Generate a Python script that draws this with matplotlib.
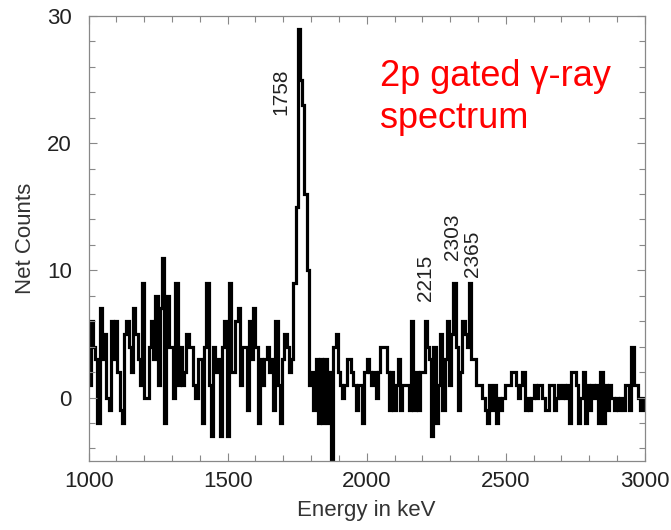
import matplotlib
matplotlib.use("Agg")
import matplotlib.pyplot as plt
import numpy as np
from matplotlib.ticker import MultipleLocator

plt.rcParams['font.family'] = ['Liberation Sans', 'DejaVu Sans']

# espectro gamma: bins de 8 keV entre 1000 y 3000 keV
e_min = 1000
e_max = 3000
bin_width = 8
net_counts = [
    1, 6, 4, 3, -2, 7, 3, 5, 0, -1, 6, 3, 6, 2, -1, -2, 5, 6, 4, 2,
    7, 5, 3, 1, 9, 0, 0, 4, 6, 3, 8, 1, 7, 11, -2, 8, 4, 4, 0, 9,
    1, 4, 1, 2, 5, 4, 4, 1, 0, 3, 3, -2, 4, 9, 1, -3, 4, 2, 3, -3,
    4, 6, -3, 9, 2, 2, 6, 7, 1, 4, 4, -1, 6, 3, 7, 4, -2, 3, 1, 3,
    4, 2, 3, -1, 6, 1, -2, 3, 5, 4, 2, 3, 9, 15, 29, 25, 23, 16, 10, 1,
    2, -1, 3, -2, 3, -2, 3, -2, 2, -5, 4, 5, 2, 1, 0, 1, 3, 3, 2, 1,
    -1, 1, 1, -2, 2, 3, 2, 1, 2, 0, 2, 4, 4, 4, 2, -1, 2, -1, 1, 3,
    -1, 1, 1, 1, -1, 6, -1, 2, -1, 2, 2, 6, 4, 3, -3, 4, -2, 1, 5, -1,
    3, 6, 1, 5, 9, 4, -1, 2, 6, 5, 4, 9, 3, 3, 1, 1, 1, 0, -1, -2,
    1, -1, 1, -2, 0, -1, 0, 1, 1, 1, 2, 2, 1, 0, 1, 2, -1, 0, -1, 0,
    1, 0, 1, 1, 0, -1, -1, 1, 1, -1, 0, 1, 0, 1, 0, 1, -2, 2, 2, 1,
    -2, 0, 2, -2, 1, -1, 1, 0, 1, -2, 2, -2, 1, -1, 1, 0, -1, 0, -1, 0,
    -1, 1, 1, -1, 4, 1, 1, 0, -1, 0,
]
edges = np.arange(e_min, e_max + bin_width, bin_width)

# picos etiquetados: texto, posicion x (keV), posicion y (cuentas)
peak_labels = ["1758", "2215", "2303", "2365"]
peak_x = [1690, 2213, 2309, 2382]
peak_y = [24, 9.4, 12.6, 11.3]

fig = plt.figure(figsize=(6.71, 5.30), dpi=100)
ax = fig.add_axes([0.132, 0.130, 0.829, 0.840])

ax.stairs(net_counts, edges, color='black', linewidth=2.3, baseline=None)

ax.set_xlim(e_min, e_max)
ax.set_ylim(-5, 30)
ax.xaxis.set_major_locator(MultipleLocator(500))
ax.xaxis.set_minor_locator(MultipleLocator(100))
ax.yaxis.set_major_locator(MultipleLocator(10))
ax.yaxis.set_minor_locator(MultipleLocator(2))

for s in ax.spines.values():
    s.set_color('#888888')
    s.set_linewidth(0.9)
ax.tick_params(which='both', direction='in', top=True, right=True,
               color='#888888', width=0.8)
ax.tick_params(which='major', length=6, labelsize=16, labelcolor='#222222')
ax.tick_params(which='minor', length=4)
ax.tick_params(axis='y', pad=12)
ax.tick_params(axis='x', pad=7)

ax.set_xlabel("Energy in keV", fontsize=16, color='#333333', labelpad=6)
ax.set_ylabel("Net Counts", fontsize=16, color='#333333', labelpad=8)

for lab, x, y in zip(peak_labels, peak_x, peak_y):
    ax.text(x, y, lab, rotation=90, ha='center', va='center',
            fontsize=15, color='#222222')

fig.text(0.566, 0.888, "2p gated γ-ray\nspectrum", color='red', fontsize=26,
         ha='left', va='top', linespacing=1.25)

fig.savefig("out.png", dpi=100)
